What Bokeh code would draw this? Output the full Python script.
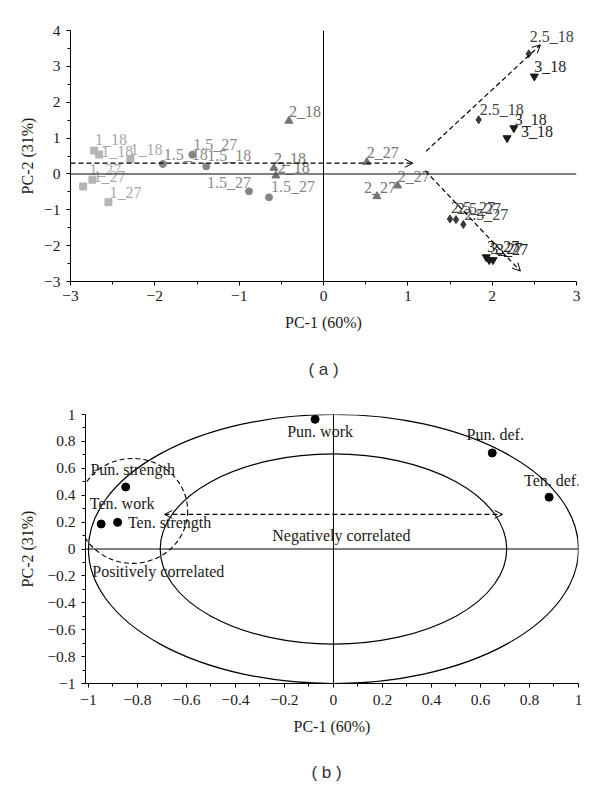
import numpy as np
from bokeh.plotting import figure
from bokeh.models import Span, Arrow, OpenHead, Label, FixedTicker, Range1d, ColumnDataSource
from bokeh.core.properties import value
from bokeh.embed import file_html
from bokeh.resources import INLINE

SERIF = "Liberation Serif"
SANS = "Liberation Sans"

# ---------------- Panel (a) data: PCA scores ----------------
sq_x = [-2.72, -2.66, -2.29, -2.74, -2.85, -2.55]
sq_y = [0.65, 0.54, 0.42, -0.16, -0.35, -0.79]
sq_lab = ["1_18", "1_18", "1_18", "1_27", "1_27", "1_27"]

ci_x = [-1.905, -1.556, -1.39, -0.883, -0.646]
ci_y = [0.276, 0.538, 0.21, -0.485, -0.652]
ci_lab = ["1.5_18", "1.5_27", "1.5_18", "1.5_27", "1.5_27"]

tr_x = [-0.41, -0.587, -0.565, 0.514, 0.633, 0.879]
tr_y = [1.48, 0.165, -0.048, 0.33, -0.625, -0.327]
tr_lab = ["2_18", "2_18", "2_18", "2_27", "2_27", "2_27"]

di_x = [2.434, 1.84, 1.50, 1.571, 1.658]
di_y = [3.35, 1.51, -1.256, -1.274, -1.41]
di_lab = ["2.5_18", "2.5_18", "2.5_27", "2.5_27", "2.5_27"]

it_x = [2.50, 2.257, 2.177, 1.93, 1.965, 2.01]
it_y = [2.72, 1.28, 1.0, -2.32, -2.40, -2.40]
it_lab = ["3_18", "3_18", "3_18", "3_27", "3_27", "3_27"]

# dashed trend arrows (a)
arr_x0 = [-3.0, 1.215, 1.206]
arr_y0 = [0.30, 0.63, 0.09]
arr_x1 = [1.06, 2.572, 2.335]
arr_y1 = [0.30, 3.60, -2.71]

ax_ticks = [-3, -2, -1, 0, 1, 2, 3]
ax_labels = ["\u22123", "\u22122", "\u22121", "0", "1", "2", "3"]
ay_ticks = [-3, -2, -1, 0, 1, 2, 3, 4]
ay_labels = ["\u22123", "\u22122", "\u22121", "0", "1", "2", "3", "4"]

# ---------------- Panel (b) data: loadings ----------------
var_names = ["Pun. work", "Pun. def.", "Ten. def.", "Pun. strength", "Ten. work", "Ten. strength"]
var_x = [-0.075, 0.648, 0.88, -0.848, -0.948, -0.881]
var_y = [0.964, 0.714, 0.385, 0.461, 0.186, 0.198]

circle_r = [1.0, 0.7071]          # correlation circles (radius)
group_cx, group_cy = -0.82, 0.283  # dashed group ellipse
group_w, group_h = 0.45, 0.78
darr_x0, darr_x1, darr_y = -0.69, 0.69, 0.257

bx_ticks = [-1, -0.8, -0.6, -0.4, -0.2, 0, 0.2, 0.4, 0.6, 0.8, 1]
bx_labels = ["\u22121", "\u22120.8", "\u22120.6", "\u22120.4", "\u22120.2", "0", "0.2", "0.4", "0.6", "0.8", "1"]
by_ticks = [-1, -0.8, -0.6, -0.4, -0.2, 0, 0.2, 0.4, 0.6, 0.8, 1]
by_labels = ["\u22121", "\u22120.8", "\u22120.6", "\u22120.4", "\u22120.2", "0", "0.2", "0.4", "0.6", "0.8", "1"]

captions = ["( a )", "( b )"]


def mids(t):
    return [(a + b) / 2 for a, b in zip(t[:-1], t[1:])]


def style_axes(p, xt, xl, yt, yl, xstand=5, ylab_stand=8):
    p.xaxis.ticker = FixedTicker(ticks=xt, minor_ticks=mids(xt))
    p.yaxis.ticker = FixedTicker(ticks=yt, minor_ticks=mids(yt))
    p.xaxis.major_label_overrides = {t: l for t, l in zip(xt, xl)}
    p.yaxis.major_label_overrides = {t: l for t, l in zip(yt, yl)}
    for ax in (p.xaxis[0], p.yaxis[0]):
        ax.axis_line_color = "black"
        ax.major_tick_line_color = "black"
        ax.minor_tick_line_color = "black"
        ax.major_tick_in = 0
        ax.major_tick_out = 4
        ax.minor_tick_in = 0
        ax.minor_tick_out = 3
        ax.major_label_text_font = SERIF
        ax.major_label_text_font_size = "15.5px"
        ax.major_label_text_color = "#1a1a1a"
        ax.axis_label_text_font = SERIF
        ax.axis_label_text_font_size = "16px"
        ax.axis_label_text_font_style = "normal"
        ax.axis_label_text_color = "#1a1a1a"
    p.xaxis.major_label_standoff = xstand
    p.xaxis.axis_label_standoff = 10
    p.yaxis.major_label_standoff = 6
    p.yaxis.axis_label_standoff = ylab_stand
    p.grid.visible = False
    p.outline_line_color = None


def caption_fig(text, height, xfrac, yfrac):
    c = figure(width=600, height=height, output_backend="svg", toolbar_location=None,
               x_range=Range1d(0, 1), y_range=Range1d(0, 1), min_border=0)
    c.axis.visible = False
    c.grid.visible = False
    c.outline_line_color = None
    c.text(x=[xfrac], y=[yfrac], text=[text], text_font=value(SANS), text_font_size="17px",
           text_color="#333333", text_align="center", text_baseline="middle")
    return c


# ================= Figure (a) =================
pa = figure(width=600, height=345, output_backend="svg", toolbar_location=None,
            x_range=Range1d(-3, 3), y_range=Range1d(-3, 4),
            min_border_left=70, min_border_right=24, min_border_top=30, min_border_bottom=64,
            x_axis_label="PC-1 (60%)", y_axis_label="PC-2 (31%)")
style_axes(pa, ax_ticks, ax_labels, ay_ticks, ay_labels, ylab_stand=5)

pa.add_layout(Span(location=0, dimension="width", line_color="#555555", line_width=1.5))
pa.add_layout(Span(location=0, dimension="height", line_color="black", line_width=1))

for x0, y0, x1, y1 in zip(arr_x0, arr_y0, arr_x1, arr_y1):
    pa.add_layout(Arrow(end=OpenHead(size=8, line_width=1, line_color="black"),
                        x_start=x0, y_start=y0, x_end=x1, y_end=y1,
                        line_color="black", line_width=1.2, line_dash="5 3"))

series = [
    (sq_x, sq_y, sq_lab, "square", 7, "#b5b5b5", "#a8a8a8",
     [1, 2, 0, 1, 6, 1], [-11, -3, -9, -3, -17, -10]),
    (ci_x, ci_y, ci_lab, "circle", 7, "#858585", "#8a8a8a",
     [1, 1, 1, -42, 2], [-10, -10, -11, -9, -11]),
    (tr_x, tr_y, tr_lab, "triangle", 8, "#727272", "#767676",
     [0, 0, 2, 0, -13, 0], [-9, -10, -8, -10, -9, -9]),
    (di_x, di_y, di_lab, "diamond", 8, "#3a3a3a", "#444444",
     [1, 1, 1, 1, 1], [-17, -10, -11, -11, -10]),
    (it_x, it_y, it_lab, "inverted_triangle", 8, "#1a1a1a", "#222222",
     [0, 1, 14, 1, 1, 3], [-10, -9, -7, -11, -11, -10]),
]
for xs, ys, labs, mk, sz, col, tcol, dxs, dys in series:
    src = ColumnDataSource(dict(x=xs, y=ys, t=labs, dx=dxs, dy=dys))
    pa.scatter("x", "y", source=src, marker=mk, size=sz, fill_color=col, line_color=col)
    pa.text("x", "y", text="t", source=src, x_offset="dx", y_offset="dy",
            text_font=value(SERIF), text_font_size="16px", text_color=tcol,
            text_align="left", text_baseline="middle")

ca = caption_fig(captions[0], 47, 323 / 600, 0.5)

# ================= Figure (b) =================
pb = figure(width=600, height=348, output_backend="svg", toolbar_location=None,
            x_range=Range1d(-1.012, 1.0), y_range=Range1d(-1, 1),
            min_border_left=85, min_border_right=22, min_border_top=22, min_border_bottom=57,
            x_axis_label="PC-1 (60%)", y_axis_label="PC-2 (31%)")
style_axes(pb, bx_ticks, bx_labels, by_ticks, by_labels, xstand=7, ylab_stand=8)

pb.add_layout(Span(location=0, dimension="width", line_color="black", line_width=1))
pb.add_layout(Span(location=0, dimension="height", line_color="black", line_width=1))

pb.ellipse(x=[0] * len(circle_r), y=[0] * len(circle_r),
           width=[2 * r for r in circle_r], height=[2 * r for r in circle_r],
           fill_color=None, line_color="black", line_width=1.2)
pb.ellipse(x=[group_cx], y=[group_cy], width=[group_w], height=[group_h],
           fill_color=None, line_color="black", line_width=1.1, line_dash="5 3")

pb.add_layout(Arrow(start=OpenHead(size=8, line_width=1), end=OpenHead(size=8, line_width=1),
                    x_start=darr_x0, y_start=darr_y, x_end=darr_x1, y_end=darr_y,
                    line_color="black", line_width=1.2, line_dash="5 3"))

vsrc = ColumnDataSource(dict(x=var_x, y=var_y, t=var_names,
                             dx=[5, 3, 3, 7, 21, 52], dy=[12, -18, -17, -17, -20, 0]))
pb.scatter("x", "y", source=vsrc, size=8, fill_color="black", line_color="black")
pb.text("x", "y", text="t", source=vsrc, x_offset="dx", y_offset="dy",
        text_font=value(SERIF), text_font_size="16px", text_color="#1a1a1a",
        text_align="center", text_baseline="middle")

pb.add_layout(Label(x=0.032, y=0.103, text="Negatively correlated", text_align="center",
                    text_baseline="middle", text_font=SERIF, text_font_size="16px",
                    text_color="#1a1a1a"))
pb.add_layout(Label(x=-0.715, y=-0.17, text="Positively correlated", text_align="center",
                    text_baseline="middle", text_font=SERIF, text_font_size="16px",
                    text_color="#1a1a1a"))

cb = caption_fig(captions[1], 46, 326 / 600, 1 - 32 / 46)

open("out.html", "w").write(file_html([pa, ca, pb, cb], INLINE))
